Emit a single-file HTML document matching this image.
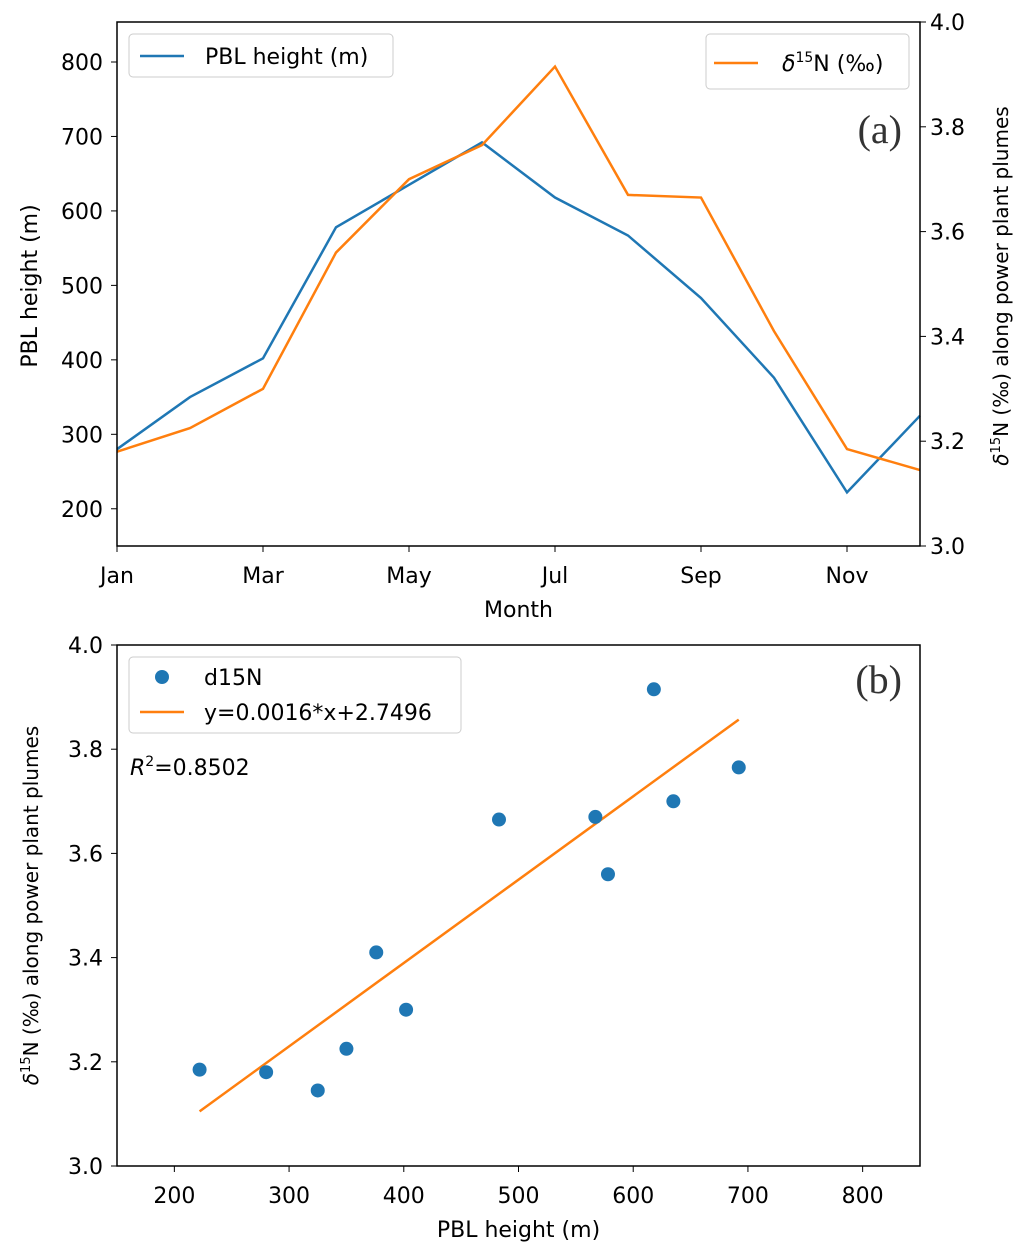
<!DOCTYPE html>
<html><head><meta charset="utf-8"><style>
body{margin:0;background:#fff;}
svg{display:block;font-family:"DejaVu Sans","Liberation Sans",sans-serif;}
</style></head><body>
<svg id="c" width="1029" height="1257" viewBox="0 0 1029 1257"></svg>
<script>
const months = ["Jan","Feb","Mar","Apr","May","Jun","Jul","Aug","Sep","Oct","Nov","Dec"];
const monthTicks = ["Jan","Mar","May","Jul","Sep","Nov"];
const pbl = [280,350,402,578,635,692,618,567,483,376,222,325];
const d15n = [3.18,3.225,3.30,3.56,3.70,3.765,3.915,3.67,3.665,3.41,3.185,3.145];
const pblTicks = [200,300,400,500,600,700,800];
const dTicks = [3.0,3.2,3.4,3.6,3.8,4.0];
const xTicksB = [200,300,400,500,600,700,800];
const fitSlope = 0.0016, fitIntercept = 2.7496, r2 = "0.8502";

const svg = document.getElementById('c');
const NS = "http://www.w3.org/2000/svg";
const FS = 22;
function el(tag, attrs, parent){const e=document.createElementNS(NS,tag);for(const k in attrs)e.setAttribute(k,attrs[k]);(parent||svg).appendChild(e);return e;}
function txt(x,y,s,anchor,size,parent){const t=el('text',{x:x,y:y,'text-anchor':anchor||'middle','font-size':size||FS,fill:'#000'},parent);t.textContent=s;return t;}
const BLUE="#1f77b4", ORANGE="#ff7f0e";

// Panel A
const A={l:117,r:920,t:22,b:546};
const xA=i=>A.l+(A.r-A.l)*i/11;
const yA=v=>A.b-(v-150)*(A.b-A.t)/(853.7-150);
const yA2=v=>A.b-(v-3.0)*(A.b-A.t)/1.0;
const gA=el('g',{});


const lp=el('polyline',{points:pbl.map((v,i)=>xA(i)+","+yA(v)).join(" "),fill:"none",stroke:BLUE,'stroke-width':2.5},gA);


const ld=el('polyline',{points:d15n.map((v,i)=>xA(i)+","+yA2(v)).join(" "),fill:"none",stroke:ORANGE,'stroke-width':2.5},gA);


el('rect',{x:A.l,y:A.t,width:A.r-A.l,height:A.b-A.t,fill:'none',stroke:'#000','stroke-width':1.5},gA);
pblTicks.forEach(v=>{const y=yA(v);el('line',{x1:A.l-6,x2:A.l,y1:y,y2:y,stroke:'#000'},gA);txt(A.l-14,y+8,String(v),'end',FS,gA);});
dTicks.forEach(v=>{const y=yA2(v);el('line',{x1:A.r,x2:A.r+6,y1:y,y2:y,stroke:'#000'},gA);txt(A.r+10,y+8,v.toFixed(1),'start',FS,gA);});
monthTicks.forEach(m=>{const x=xA(months.indexOf(m));el('line',{x1:x,x2:x,y1:A.b,y2:A.b+6,stroke:'#000'},gA);txt(x,A.b+37,m,'middle',FS,gA);});
txt((A.l+A.r)/2,617,"Month",'middle',FS,gA);
const yl=txt(0,0,"PBL height (m)",'middle',FS,gA);yl.setAttribute('transform',`translate(37,${(A.t+A.b)/2+2}) rotate(-90)`);

const yr=el('text',{'text-anchor':'middle','font-size':20,transform:`translate(1008,${(A.t+A.b)/2+2}) rotate(-90)`},gA);
yr.innerHTML='<tspan font-style="italic">δ</tspan><tspan font-size="13" dy="-8">15</tspan><tspan dy="8">N (‰) along power plant plumes</tspan>';

// legends A
el('rect',{x:129,y:34,width:264,height:43,rx:4,fill:'#fff',stroke:'#ccc'},gA);
el('line',{x1:140,x2:184,y1:56,y2:56,stroke:BLUE,'stroke-width':2.5},gA);
txt(205,64,"PBL height (m)",'start',FS,gA);
el('rect',{x:706,y:34,width:203,height:55,rx:4,fill:'#fff',stroke:'#ccc'},gA);
el('line',{x1:714,x2:758,y1:63,y2:63,stroke:ORANGE,'stroke-width':2.5},gA);
const lt=el('text',{x:782,y:71,'font-size':FS},gA);
lt.innerHTML='<tspan font-style="italic">δ</tspan><tspan font-size="14" dy="-9">15</tspan><tspan dy="9">N (‰)</tspan>';
const la=el('text',{x:902,y:143,'text-anchor':'end','font-size':40,'font-family':'Liberation Serif, serif',fill:'#333'},gA);la.textContent="(a)";


// Panel B
const B={l:117,r:920,t:645,b:1166};
const xB=v=>B.l+(v-150)*(B.r-B.l)/700;
const yB=v=>B.b-(v-3.0)*(B.b-B.t)/1.0;
const gB=el('g',{});


const mn=Math.min(...pbl), mx=Math.max(...pbl);
const fl=el('line',{x1:xB(mn),y1:yB(fitSlope*mn+fitIntercept),x2:xB(mx),y2:yB(fitSlope*mx+fitIntercept),stroke:ORANGE,'stroke-width':2.5},gB);


pbl.forEach((v,i)=>{const c=el('circle',{cx:xB(v),cy:yB(d15n[i]),r:7,fill:BLUE},gB);

});
el('rect',{x:B.l,y:B.t,width:B.r-B.l,height:B.b-B.t,fill:'none',stroke:'#000','stroke-width':1.5},gB);
xTicksB.forEach(v=>{const x=xB(v);el('line',{x1:x,x2:x,y1:B.b,y2:B.b+6,stroke:'#000'},gB);txt(x,B.b+37,String(v),'middle',FS,gB);});
dTicks.forEach(v=>{const y=yB(v);el('line',{x1:B.l-6,x2:B.l,y1:y,y2:y,stroke:'#000'},gB);txt(B.l-14,y+8,v.toFixed(1),'end',FS,gB);});
txt((B.l+B.r)/2,1237,"PBL height (m)",'middle',FS,gB);
const yb=el('text',{'text-anchor':'middle','font-size':20,transform:`translate(38,${(B.t+B.b)/2}) rotate(-90)`},gB);
yb.innerHTML='<tspan font-style="italic">δ</tspan><tspan font-size="13" dy="-8">15</tspan><tspan dy="8">N (‰) along power plant plumes</tspan>';

el('rect',{x:129,y:657,width:332,height:76,rx:4,fill:'#fff',stroke:'#ccc'},gB);
el('circle',{cx:162,cy:677,r:7,fill:BLUE},gB);
txt(204,685,"d15N",'start',FS,gB);
el('line',{x1:140,x2:184,y1:712,y2:712,stroke:ORANGE,'stroke-width':2.5},gB);
txt(204,720,"y=0.0016*x+2.7496",'start',FS,gB);
const rt=el('text',{x:130,y:775,'font-size':FS},gB);
rt.innerHTML='<tspan font-style="italic">R</tspan><tspan font-size="14" dy="-9">2</tspan><tspan dy="9">='+r2+'</tspan>';

const lb=el('text',{x:902,y:693,'text-anchor':'end','font-size':40,'font-family':'Liberation Serif, serif',fill:'#333'},gB);lb.textContent="(b)";

</script>
</body></html>
